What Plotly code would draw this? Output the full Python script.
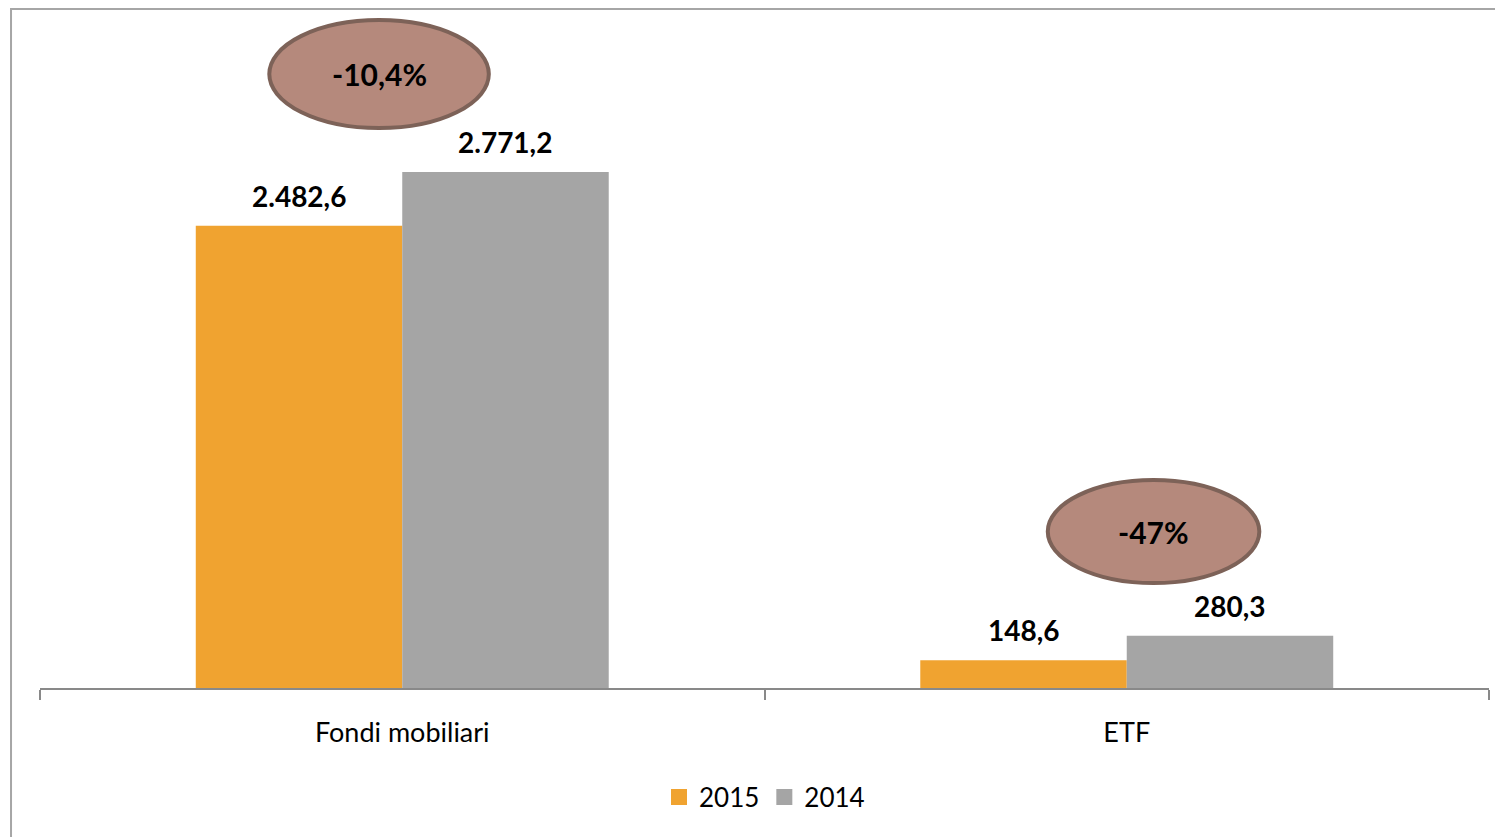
import plotly.graph_objects as go

categories = ["Fondi mobiliari", "ETF"]
series_names = ["2015", "2014"]
values_2015 = [2482.6, 148.6]
values_2014 = [2771.2, 280.3]
labels_2015 = ["2.482,6", "148,6"]
labels_2014 = ["2.771,2", "280,3"]
changes = ["-10,4%", "-47%"]

colors = {"2015": "#F0A330", "2014": "#A5A5A5"}
FONT = "Lato"
bargap = 0.43

fig = go.Figure()
for name, vals in (("2015", values_2015), ("2014", values_2014)):
    fig.add_trace(go.Bar(x=categories, y=vals, name=name, marker_color=colors[name],
                         marker_line_width=0, showlegend=False, hoverinfo="y"))
for name in series_names:
    fig.add_trace(go.Scatter(x=[None], y=[None], mode="markers", name=name,
                             marker=dict(symbol="square", size=16, color=colors[name])))

off = (1 - bargap) / 4
annotations = []
for i in range(len(categories)):
    for vals, labs, sgn in ((values_2015, labels_2015, -1), (values_2014, labels_2014, 1)):
        annotations.append(dict(x=i + sgn * off, y=vals[i], text=labs[i], showarrow=False,
                                yanchor="middle", yshift=30,
                                font=dict(family=FONT, size=28, color="#000000", weight="bold")))

# ellipse callouts (category units / value units)
ell = [dict(cx=-0.032, cy=3297, w=0.303, h=580),
       dict(cx=1.037, cy=840, w=0.292, h=553)]
shapes = []
for i, e in enumerate(ell):
    shapes.append(dict(type="circle", xref="x", yref="y",
                       x0=e["cx"] - e["w"] / 2, x1=e["cx"] + e["w"] / 2,
                       y0=e["cy"] - e["h"] / 2, y1=e["cy"] + e["h"] / 2,
                       fillcolor="#B5897C", line=dict(color="#7D6258", width=4), layer="above"))
    annotations.append(dict(x=e["cx"], y=e["cy"], text=changes[i], showarrow=False,
                            font=dict(family=FONT, size=30, color="#000000", weight="bold")))

# outer border
shapes.append(dict(type="rect", xref="paper", yref="paper", x0=-0.02, x1=1.05, y0=-0.4, y1=1.0015,
                   line=dict(color="#A6A6A6", width=2), fillcolor="rgba(0,0,0,0)", layer="below"))

fig.update_layout(
    width=1503, height=837,
    margin=dict(l=32, r=22, t=2, b=157),
    paper_bgcolor="white", plot_bgcolor="white",
    barmode="group", bargap=bargap, bargroupgap=0,
    font=dict(family=FONT, color="#000000"),
    shapes=shapes, annotations=annotations,
    legend=dict(orientation="h", x=0.5, xanchor="center", y=-0.161, yanchor="middle",
                font=dict(family=FONT, size=26, color="#000000"), itemsizing="trace",
                bgcolor="rgba(0,0,0,0)"),
    xaxis=dict(type="category", range=[-0.5, 1.5],
               showline=True, linecolor="#898989", linewidth=2,
               ticks="outside", tickson="boundaries", ticklen=10, tickcolor="#898989", tickwidth=2,
               tickfont=dict(family=FONT, size=27, color="#000000"), ticklabelstandoff=20,
               showgrid=False, zeroline=False),
    yaxis=dict(range=[0, 3641], showticklabels=False, showgrid=False, zeroline=False,
               showline=False, ticks=""),
)

fig.write_html("out.html")
